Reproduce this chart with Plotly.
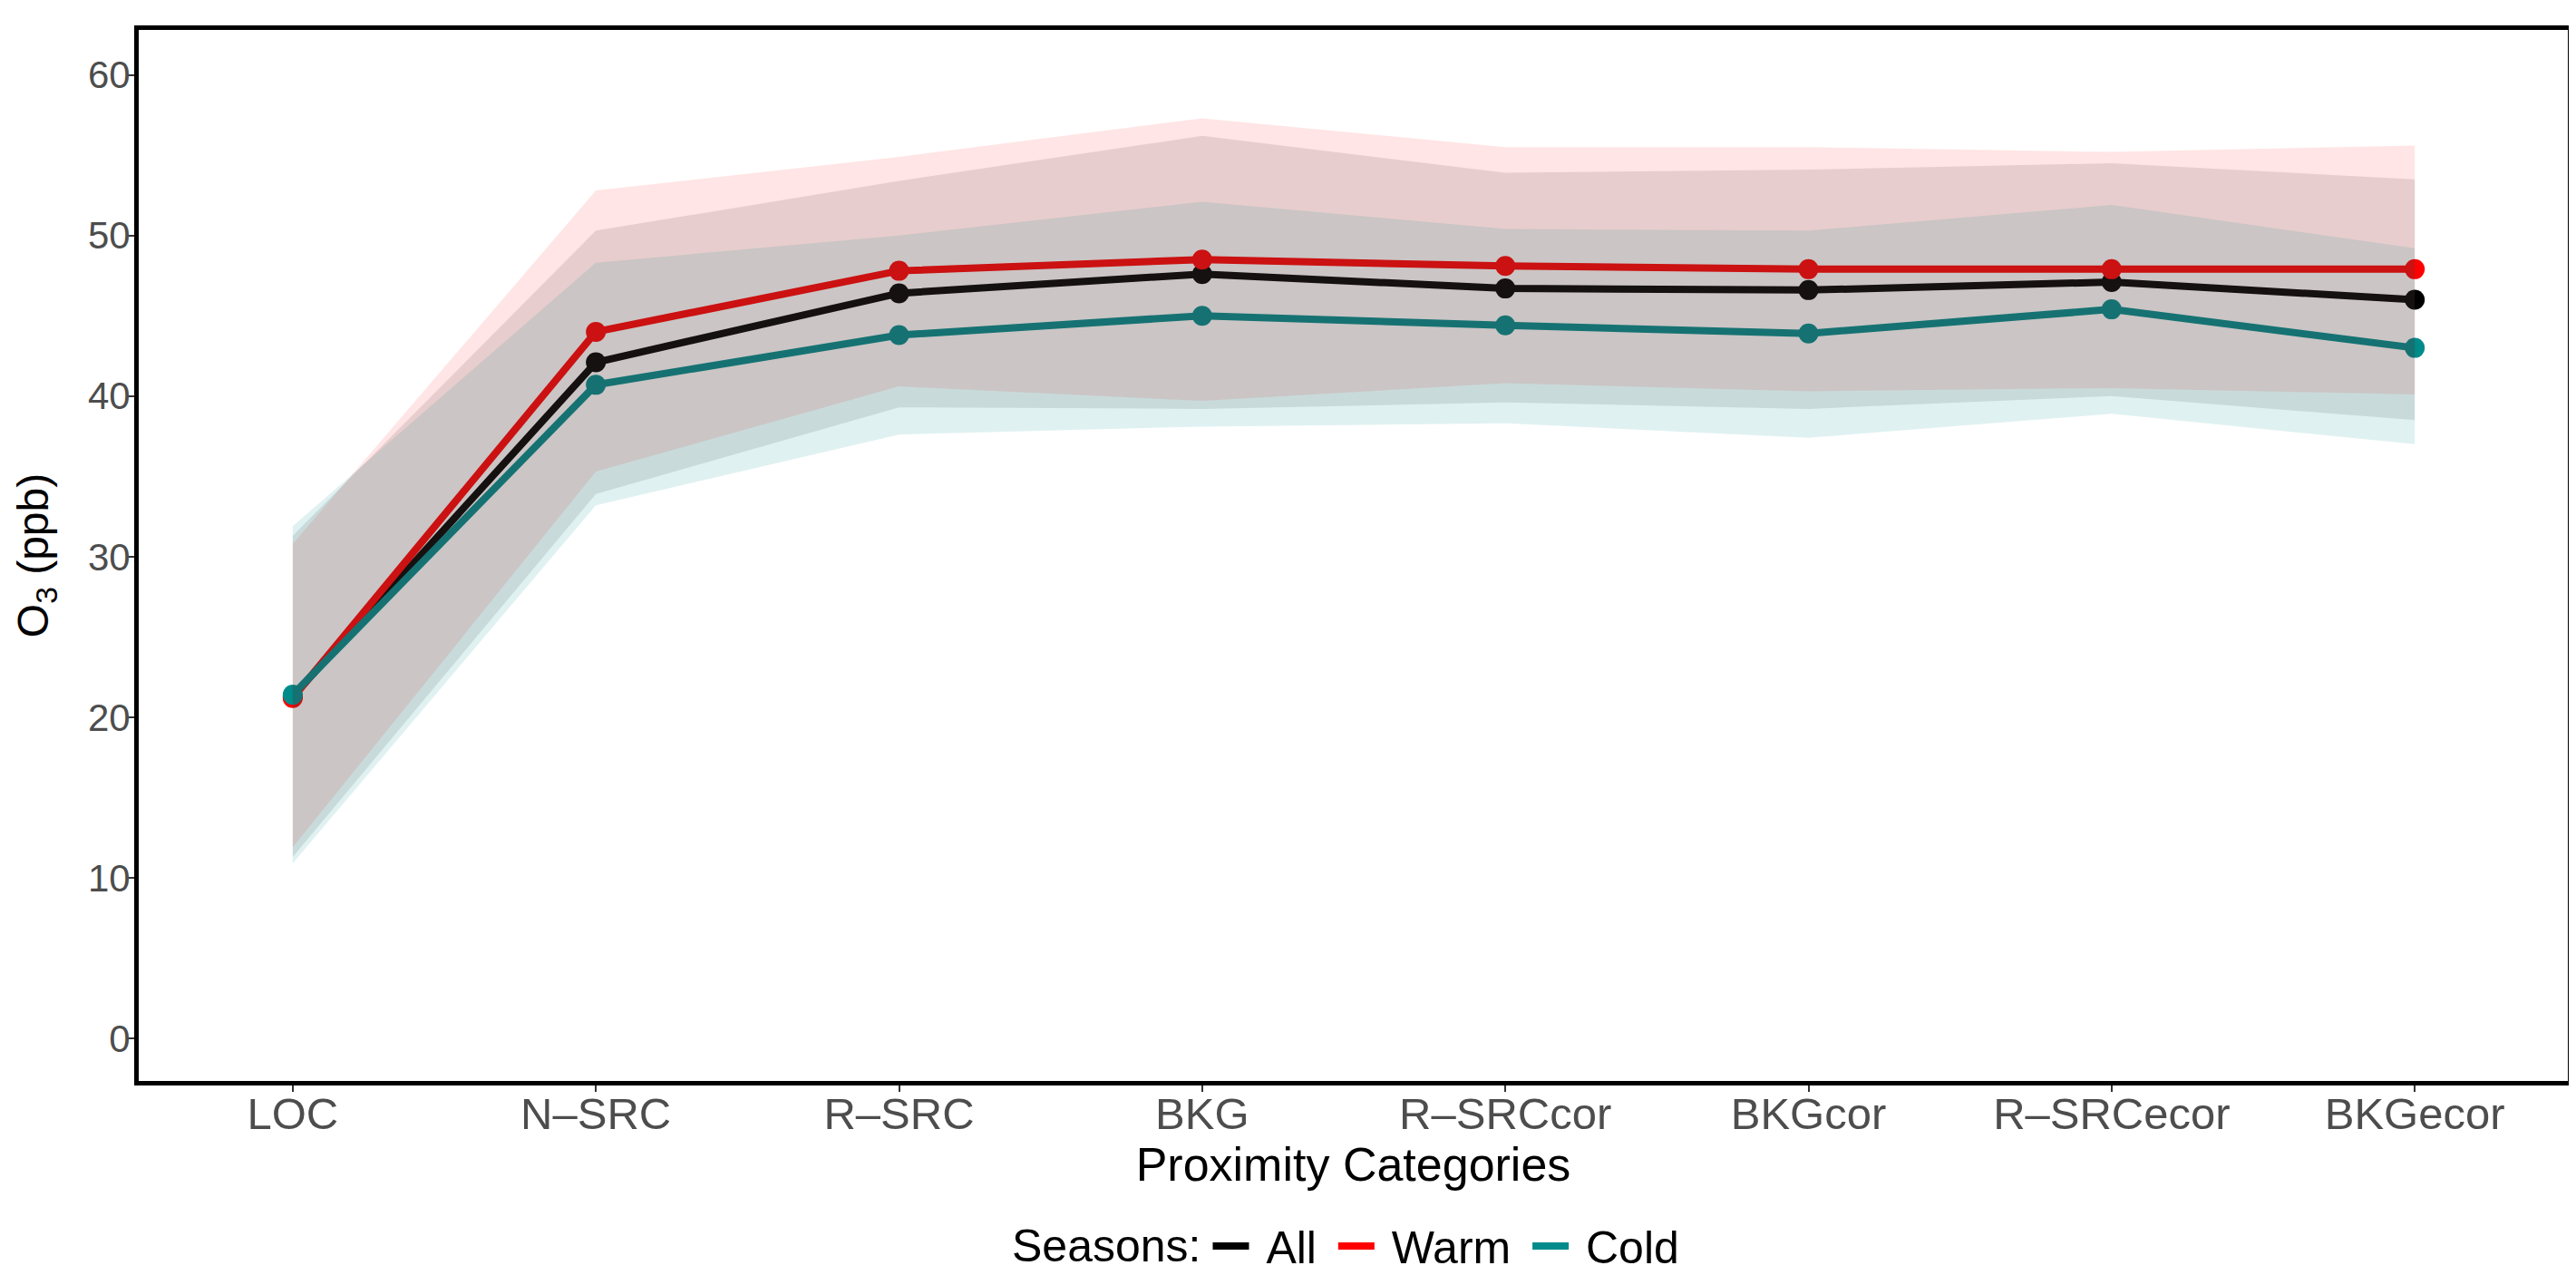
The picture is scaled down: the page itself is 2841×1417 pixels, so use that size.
import plotly.graph_objects as go

categories = ["LOC", "N–SRC", "R–SRC", "BKG", "R–SRCcor", "BKGcor", "R–SRCecor", "BKGecor"]

all_mean  = [21.3, 42.1, 46.4, 47.6, 46.7, 46.6, 47.1, 46.0]
all_lower = [11.3, 33.9, 39.3, 39.2, 39.6, 39.2, 40.0, 38.5]
all_upper = [31.3, 50.3, 53.4, 56.2, 53.9, 54.1, 54.5, 53.5]

warm_mean  = [21.2, 44.0, 47.8, 48.5, 48.1, 47.9, 47.9, 47.9]
warm_lower = [11.9, 35.3, 40.6, 39.7, 40.8, 40.3, 40.5, 40.1]
warm_upper = [30.8, 52.8, 54.9, 57.3, 55.5, 55.5, 55.2, 55.6]

cold_mean  = [21.4, 40.7, 43.8, 45.0, 44.4, 43.9, 45.4, 43.0]
cold_lower = [10.9, 33.2, 37.6, 38.1, 38.3, 37.4, 38.9, 37.0]
cold_upper = [31.9, 48.3, 50.0, 52.1, 50.4, 50.3, 51.9, 49.2]

y_ticks = [0, 10, 20, 30, 40, 50, 60]

series = [
    ("All", all_mean, all_lower, all_upper, "#000000", "rgba(0,0,0,0.10)"),
    ("Warm", warm_mean, warm_lower, warm_upper, "#FF0000", "rgba(255,0,0,0.10)"),
    ("Cold", cold_mean, cold_lower, cold_upper, "#008B8B", "rgba(0,139,139,0.12)"),
]

NB = "\u00a0"
xs = list(range(len(categories)))
fig = go.Figure()

# lines (legend) and points
for name, mean, lo, hi, col, fillcol in series:
    fig.add_trace(go.Scatter(x=xs, y=mean, mode="lines", name=NB + name + NB,
                             line=dict(color=col, width=8), showlegend=True))
    fig.add_trace(go.Scatter(x=xs, y=mean, mode="markers", name=name,
                             marker=dict(color=col, size=22, line=dict(width=0)),
                             showlegend=False))

# ribbons drawn on top
for name, mean, lo, hi, col, fillcol in series:
    fig.add_trace(go.Scatter(x=xs + xs[::-1], y=hi + lo[::-1], mode="lines",
                             fill="toself", fillcolor=fillcol,
                             line=dict(width=0, color="rgba(0,0,0,0)"),
                             showlegend=False, hoverinfo="skip"))

fig.update_layout(
    width=2841, height=1417,
    margin=dict(l=145, r=12, t=25, b=223),
    paper_bgcolor="white", plot_bgcolor="white",
    font=dict(family="Liberation Sans, Arial, sans-serif", color="black"),
    showlegend=True,
    legend=dict(orientation="h", x=0.5, xanchor="center", y=-0.157, yanchor="middle",
                title=dict(text='<span style="baseline-shift:9px">Seasons:</span>', side="left",
                           font=dict(size=50, color="black")),
                font=dict(size=50, color="black"), itemwidth=40, tracegroupgap=0),
)

fig.update_xaxes(
    range=[-0.508, 7.505], tickvals=xs, ticktext=categories,
    showgrid=False, zeroline=False,
    showline=True, linecolor="black", linewidth=5, mirror=True,
    ticks="outside", ticklen=7, tickwidth=2, tickcolor="#333333",
    ticklabelstandoff=-18,
    tickfont=dict(size=49, color="#4D4D4D"),
    title=dict(text="Proximity Categories", font=dict(size=52, color="black"), standoff=4),
)
fig.update_yaxes(
    range=[-2.65, 62.8], tickvals=y_ticks,
    showgrid=False, zeroline=False,
    showline=True, linecolor="black", linewidth=5, mirror=True,
    ticks="outside", ticklen=8, tickwidth=2, tickcolor="#333333",
    ticklabelstandoff=-12,
    tickfont=dict(size=42, color="#4D4D4D"),
    title=dict(text="O<sub>3</sub> (ppb)", font=dict(size=48, color="black"), standoff=30),
)

fig.write_html("out.html")
